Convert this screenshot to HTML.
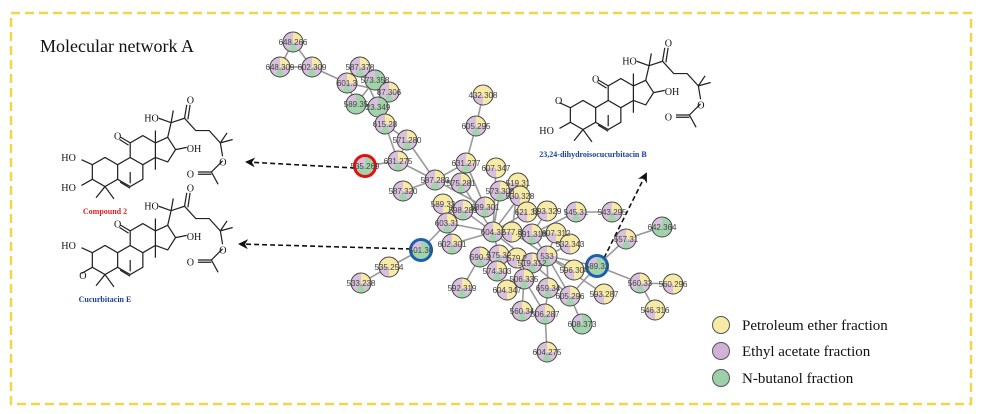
<!DOCTYPE html>
<html><head><meta charset="utf-8"><style>
body{margin:0;background:#fff}
svg{display:block}
.l{font:8px "Liberation Sans",sans-serif;fill:#444;text-anchor:middle}
.a{font:9px "Liberation Serif",serif;fill:#111}
</style></head><body>
<svg width="981" height="414" viewBox="0 0 981 414" xmlns="http://www.w3.org/2000/svg">
<defs>
<g id="P"><circle r="10" fill="#d9c0dd"/><path d="M0,0 L0,-10 A10,10 0 0 1 10,0Z" fill="#f7eaa6"/><path d="M0,0 L5,8.66 A10,10 0 0 1 -5,8.66Z" fill="#a3d3ad"/><circle r="10" fill="none" stroke="#444" stroke-width="1"/></g>
<g id="Y"><circle r="10" fill="#f7eaa6"/><path d="M0,0 L0,10 A10,10 0 0 1 -10,0Z" fill="#d9c0dd"/><circle r="10" fill="none" stroke="#444" stroke-width="1"/></g>
<g id="G"><circle r="10" fill="#a3d3ad"/><path d="M0,0 L-10,0 A10,10 0 0 1 0,-10Z" fill="#d9c0dd"/><circle r="10" fill="none" stroke="#444" stroke-width="1"/></g>
<marker id="ar" markerWidth="10" markerHeight="10" refX="8" refY="5" orient="auto" markerUnits="userSpaceOnUse"><path d="M0,0 L10,5 L0,10 L3,5Z" fill="#111"/></marker>
<g id="mol" fill="none" stroke="#222" stroke-width="1.1">
<path d="M105,159 L116.3,165.5 L116.3,178.5 L105,185 L93.7,178.5 L93.7,165.5Z"/>
<path d="M116.3,165.5 L127.5,159 L138.8,165.5 L138.8,178.5 L127.5,185 L116.3,178.5"/>
<path d="M118.5,181 L127.5,186.5" />
<path d="M127.5,159 L127.5,146 L138.8,139.5 L150,146 L150,159 L138.8,165.5"/>
<path d="M150,146 L161,141 L168,152 L161,163 L150,159"/>
<path d="M127.5,146 L119,141 M126,148 L118,143"/>
<path d="M93.7,165.5 L84,161 M93.7,178.5 L84,184 M105,185 L97,195 M105,185 L113,196 M127.5,172 L127.5,182 M150,146 L150,135 M150,159 L150,170"/>
<path d="M161,141 L164,128 L176,124 L186,135 L198,135 L208,146 L210,158 M208,146 L219,143 M208,146 L214,137"/>
<path d="M176,124 L178,112 M179,125 L181,112"/>
<path d="M164,128 L153,124 M164,128 L166,117 M168,152 L178,150"/>
<path d="M210,162 L200,172 L188,172 M200,174 L188,174 M200,172 L206,183"/>
</g>
<g id="mk">
<use href="#mol"/>
<text class="a" x="140" y="127">HO</text><text class="a" x="178" y="111">O</text><text class="a" x="178" y="154">OH</text><text class="a" x="207" y="166">O</text><text class="a" x="178" y="177">O</text><text class="a" x="113" y="143">O</text>
</g>
</defs>
<rect x="11" y="13" width="960" height="391" fill="none" stroke="#f0d64a" stroke-width="2.5" stroke-dasharray="9,5"/>
<text x="40" y="52" style="font:18px 'Liberation Serif',serif;fill:#111">Molecular network A</text>

<!-- structures -->
<g>
<g transform="translate(105,172) scale(1.12) translate(-105,-172)">
<use href="#mk"/>
<text class="a" x="66" y="162">HO</text><text class="a" x="66" y="189">HO</text>
</g>
<text x="105" y="214" style="font:bold 8px 'Liberation Serif',serif;fill:#e02020" text-anchor="middle">Compound 2</text>
</g>
<g transform="translate(0,88)">
<g transform="translate(105,172) scale(1.12) translate(-105,-172)">
<use href="#mk"/>
<text class="a" x="66" y="162">HO</text><text class="a" x="82" y="189">O</text>
</g>
<text x="105" y="214" style="font:bold 8px 'Liberation Serif',serif;fill:#1a3f9a" text-anchor="middle">Cucurbitacin E</text>
</g>
<g transform="translate(478,-57)">
<g transform="translate(105,172) scale(1.12) translate(-105,-172)">
<use href="#mk"/>
<text class="a" x="80" y="162">O</text><text class="a" x="66" y="189">HO</text>
</g>
<text x="115" y="214" style="font:bold 8px 'Liberation Serif',serif;fill:#1a3f9a" text-anchor="middle">23,24-dihydroisocucurbitacin B</text>
</g>

<!-- edges -->
<g stroke="#999" stroke-width="1.6" fill="none">
<path d="M293,42L280,67L312,67L293,42 M312,67L347,83 M347,83L360,67L375,80L389,92L378,107L356,104L347,83 M360,67L378,107 M375,80L356,104 M347,83L389,92 M378,107L385,124L407,140L398,161L365,166 M385,124L398,161 M398,161L435,180 M407,140L435,180"/>
<path d="M483,95L476,126L466,163L435,180L403,191 M435,180L461,183 M466,163L485,207 M435,180L485,207 M443,204L485,207 M461,183L493,232 M496,168L493,232 M500,191L493,232 M518,183L512,232 M520,196L493,232 M463,210L493,232 M447,223L493,232 M447,223L452,244 M447,223L421,250 M452,244L493,232 M421,250L389,267L361,283 M527,212L493,232 M547,211L532,234 M576,212L612,212 M576,212L532,234 M493,232L512,232L532,234L556,233 M493,232L499,255 M493,232L532,263 M512,232L547,256 M532,234L547,256 M556,233L547,256 M570,244L547,256 M626,239L662,227 M626,239L597,266 M547,256L597,266L640,283L673,284 M640,283L655,310 M597,266L574,270 M547,256L574,270 M499,255L480,257 M499,255L497,271 M517,258L524,279 M532,263L524,279 M480,257L462,288 M524,279L507,290 M524,279L522,311 M524,279L545,314 M547,256L548,288 M547,256L570,296 M547,256L604,294 M570,296L582,324 M597,266L570,296 M545,314L547,352 M548,288L545,314 M532,263L570,296 M517,258L547,256"/>
</g>

<!-- arrows -->
<g stroke="#111" stroke-width="1.6" stroke-dasharray="5,3" fill="none">
<path d="M355,168 L247,162" marker-end="url(#ar)"/>
<path d="M411,249 L240,244" marker-end="url(#ar)"/>
<path d="M604,258 L646,174" marker-end="url(#ar)"/>
</g>

<!-- nodes -->
<g>
<use href="#P" x="293" y="42"/><use href="#P" x="280" y="67"/><use href="#P" x="312" y="67"/>
<use href="#P" x="360" y="67"/><use href="#P" x="347" y="83"/><use href="#G" x="375" y="80"/><use href="#P" x="389" y="92"/>
<use href="#G" x="356" y="104"/><use href="#G" x="378" y="107"/><use href="#P" x="385" y="124"/><use href="#P" x="407" y="140"/>
<use href="#P" x="398" y="161"/><use href="#G" x="365" y="166"/>
<use href="#Y" x="483" y="95"/><use href="#P" x="476" y="126"/><use href="#P" x="466" y="163"/><use href="#Y" x="496" y="168"/>
<use href="#P" x="403" y="191"/><use href="#P" x="435" y="180"/><use href="#P" x="461" y="183"/><use href="#Y" x="443" y="204"/>
<use href="#P" x="500" y="191"/><use href="#Y" x="518" y="183"/><use href="#Y" x="520" y="196"/><use href="#P" x="463" y="210"/>
<use href="#P" x="485" y="207"/><use href="#P" x="447" y="223"/><use href="#Y" x="527" y="212"/><use href="#Y" x="547" y="211"/>
<use href="#P" x="576" y="212"/><use href="#P" x="612" y="212"/><use href="#P" x="493" y="232"/><use href="#Y" x="512" y="232"/>
<use href="#P" x="532" y="234"/><use href="#Y" x="556" y="233"/><use href="#G" x="662" y="227"/><use href="#P" x="626" y="239"/>
<use href="#G" x="421" y="250"/><use href="#P" x="452" y="244"/><use href="#Y" x="570" y="244"/><use href="#P" x="499" y="255"/>
<use href="#Y" x="517" y="258"/><use href="#P" x="532" y="263"/><use href="#P" x="547" y="256"/><use href="#G" x="597" y="266"/>
<use href="#Y" x="574" y="270"/><use href="#P" x="480" y="257"/><use href="#P" x="497" y="271"/><use href="#Y" x="389" y="267"/>
<use href="#P" x="361" y="283"/><use href="#P" x="524" y="279"/><use href="#P" x="640" y="283"/><use href="#Y" x="673" y="284"/>
<use href="#P" x="462" y="288"/><use href="#Y" x="507" y="290"/><use href="#P" x="548" y="288"/><use href="#P" x="570" y="296"/>
<use href="#Y" x="604" y="294"/><use href="#Y" x="655" y="310"/><use href="#P" x="522" y="311"/><use href="#P" x="545" y="314"/>
<use href="#G" x="582" y="324"/><use href="#P" x="547" y="352"/>
</g>
<circle cx="365" cy="166" r="10.5" fill="none" stroke="#e01010" stroke-width="3"/>
<circle cx="421" cy="250" r="10.5" fill="none" stroke="#1a5fb0" stroke-width="3"/>
<circle cx="597" cy="266" r="10.5" fill="none" stroke="#1a5fb0" stroke-width="3"/>

<g class="l">
<text x="293" y="45">648.266</text><text x="280" y="70">648.309</text><text x="312" y="70">602.309</text>
<text x="360" y="70">587.378</text><text x="347" y="86">601.3</text><text x="375" y="83">573.358</text><text x="389" y="95">87.306</text>
<text x="356" y="107">589.35</text><text x="378" y="110">23.349</text><text x="385" y="127">615.28</text><text x="407" y="143">571.280</text>
<text x="398" y="164">631.275</text><text x="365" y="169">535.269</text>
<text x="483" y="98">432.308</text><text x="476" y="129">605.295</text><text x="466" y="166">631.277</text><text x="496" y="171">607.347</text>
<text x="403" y="194">587.320</text><text x="435" y="183">587.283</text><text x="461" y="186">575.281</text><text x="443" y="207">589.33</text>
<text x="500" y="194">573.303</text><text x="518" y="186">519.31</text><text x="520" y="199">530.328</text><text x="463" y="213">598.289</text>
<text x="485" y="210">589.301</text><text x="447" y="226">603.31</text><text x="527" y="215">621.32</text><text x="547" y="214">593.329</text>
<text x="576" y="215">545.31</text><text x="612" y="215">543.295</text><text x="493" y="235">604.32</text><text x="512" y="235">577.3</text>
<text x="532" y="237">591.318</text><text x="556" y="236">607.312</text><text x="662" y="230">642.364</text><text x="626" y="242">557.31</text>
<text x="421" y="253">501.30</text><text x="452" y="247">602.301</text><text x="570" y="247">532.343</text><text x="499" y="258">575.32</text>
<text x="517" y="261">579.2</text><text x="532" y="266">519.312</text><text x="547" y="259">533</text><text x="597" y="269">589.32</text>
<text x="574" y="273">596.304</text><text x="480" y="260">590.3</text><text x="497" y="274">574.303</text><text x="389" y="270">535.254</text>
<text x="361" y="286">533.238</text><text x="524" y="282">506.335</text><text x="640" y="286">560.33</text><text x="673" y="287">560.296</text>
<text x="462" y="291">592.319</text><text x="507" y="293">604.347</text><text x="548" y="291">659.34</text><text x="570" y="299">605.296</text>
<text x="604" y="297">593.287</text><text x="655" y="313">546.316</text><text x="522" y="314">560.34</text><text x="545" y="317">506.287</text>
<text x="582" y="327">608.373</text><text x="547" y="355">604.275</text>
</g>

<!-- legend -->
<circle cx="721" cy="325" r="8.5" fill="#f7eaa6" stroke="#555"/>
<circle cx="721" cy="351" r="8.5" fill="#d0b2d6" stroke="#555"/>
<circle cx="721" cy="378" r="8.5" fill="#9dd0a8" stroke="#555"/>
<g style="font:15px 'Liberation Serif',serif;fill:#111">
<text x="742" y="330">Petroleum ether fraction</text>
<text x="742" y="356">Ethyl acetate fraction</text>
<text x="742" y="383">N-butanol fraction</text>
</g>
</svg>
</body></html>
